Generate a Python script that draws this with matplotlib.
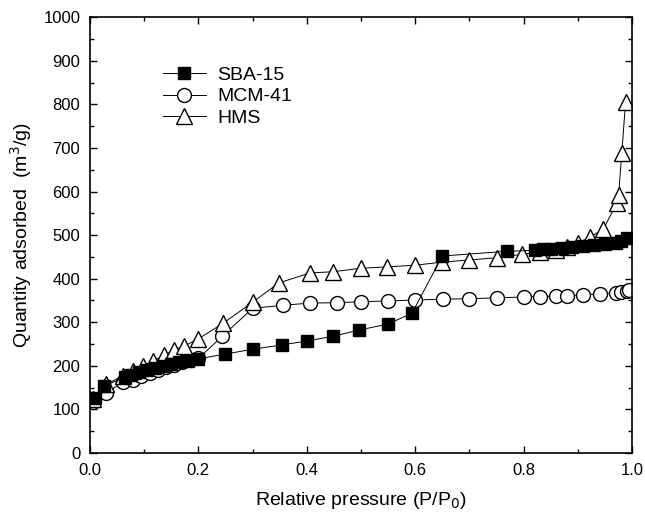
import matplotlib
matplotlib.use("Agg")
import matplotlib.pyplot as plt
from matplotlib.ticker import MultipleLocator

plt.rcParams['font.family'] = ['Liberation Sans', 'DejaVu Sans']

sba_x = [0.01, 0.026, 0.065, 0.075, 0.09, 0.105, 0.12, 0.135, 0.15, 0.165, 0.18, 0.2,
         0.249, 0.30, 0.354, 0.40, 0.449, 0.496, 0.55, 0.594, 0.65, 0.77,
         0.82, 0.835, 0.85, 0.87, 0.89, 0.91, 0.93, 0.95, 0.97, 0.98, 0.99]
sba_y = [126, 153, 175, 180, 186, 191, 196, 200, 204, 208, 212, 216,
         227, 238, 248, 257, 268, 282, 296, 321, 452, 463,
         465, 467, 469, 471, 473, 475, 477, 479, 483, 487, 494]

mcm_x = [0.005, 0.03, 0.06, 0.08, 0.095, 0.11, 0.125, 0.14, 0.155, 0.17, 0.185, 0.2,
         0.244, 0.30, 0.356, 0.406, 0.456, 0.50, 0.55, 0.60, 0.651, 0.70, 0.75,
         0.80, 0.83, 0.86, 0.88, 0.91, 0.94, 0.97, 0.98, 0.99, 0.995]
mcm_y = [118, 138, 162, 168, 176, 184, 191, 197, 203, 208, 213, 217,
         268, 332, 339, 344, 345, 347, 349, 351, 353, 354, 356,
         358, 359, 360, 361, 363, 365, 368, 370, 372, 375]

hms_x = [0.005, 0.03, 0.06, 0.08, 0.097, 0.116, 0.137, 0.155, 0.173, 0.2,
         0.246, 0.30, 0.348, 0.405, 0.449, 0.50, 0.547, 0.60, 0.65, 0.70, 0.75,
         0.797, 0.83, 0.86, 0.88, 0.90, 0.922, 0.947, 0.972, 0.975, 0.981, 0.988]
hms_y = [125, 158, 176, 188, 200, 211, 224, 237, 245, 262,
         298, 346, 390, 413, 416, 424, 427, 431, 438, 443, 448,
         456, 461, 466, 472, 482, 495, 514, 573, 592, 688, 806]

fig = plt.figure(figsize=(6.45, 5.21), dpi=100)
ax = fig.add_axes([0.1395, 0.1305, 0.8405, 0.8365])

ax.plot(sba_x, sba_y, color='black', lw=0.7, marker='s', ms=8,
        mfc='black', mec='black', label='SBA-15', zorder=3)
ax.plot(mcm_x, mcm_y, color='black', lw=0.7, marker='o', ms=10,
        mfc='white', mec='black', mew=1.0, label='MCM-41', zorder=2)
ax.plot(hms_x, hms_y, color='black', lw=0.7, marker='^', ms=11,
        mfc='white', mec='black', mew=1.0, label='HMS', zorder=2)

ax.set_xlim(0, 1.0)
ax.set_ylim(0, 1000)
ax.xaxis.set_major_locator(MultipleLocator(0.2))
ax.xaxis.set_minor_locator(MultipleLocator(0.1))
ax.yaxis.set_major_locator(MultipleLocator(100))
ax.yaxis.set_minor_locator(MultipleLocator(50))
ax.xaxis.set_major_formatter(plt.FuncFormatter(lambda v, p: f"{v:.1f}"))
ax.tick_params(which='both', direction='in', top=True, right=True, labelsize=12)
ax.tick_params(axis='x', which='major', pad=7)
ax.tick_params(axis='y', which='major', pad=7)
ax.tick_params(which='major', length=5, width=1)
ax.tick_params(which='minor', length=3, width=1)
for s in ax.spines.values():
    s.set_linewidth(1.2)

ax.set_xlabel('Relative pressure (P/P$_0$)', fontsize=14, labelpad=9)
ax.set_ylabel('Quantity adsorbed  (m$^3$/g)', fontsize=14, labelpad=7)

leg = ax.legend(loc='upper left', bbox_to_anchor=(0.12, 0.905), frameon=False,
                fontsize=14, handlelength=2.2, handletextpad=0.6, labelspacing=0.2,
                borderaxespad=0)

fig.savefig('out.png', dpi=100)
